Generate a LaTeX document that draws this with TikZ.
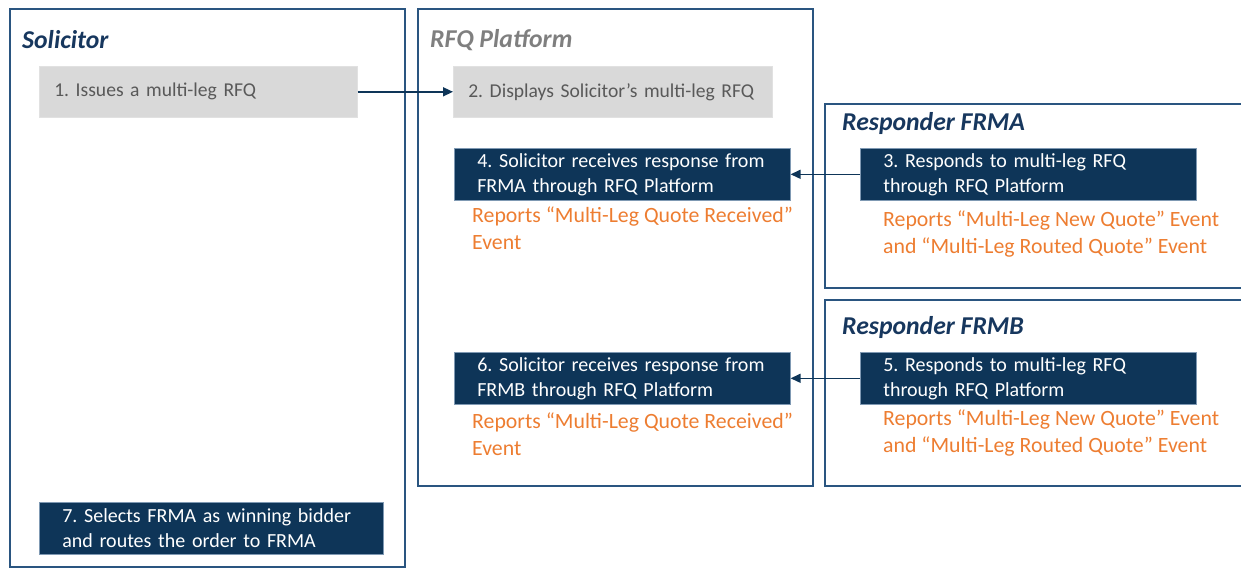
\documentclass[tikz,border=0pt]{standalone}
\usepackage{fontspec}
\setmainfont{Carlito}
\frenchspacing
\usetikzlibrary{arrows.meta}
\definecolor{navy}{HTML}{0E3558}
\definecolor{frame}{HTML}{2A5580}
\definecolor{ttl}{HTML}{17375E}
\definecolor{ttlgray}{HTML}{7F7F7F}
\definecolor{boxgray}{HTML}{D9D9D9}
\definecolor{txtgray}{HTML}{595959}
\definecolor{orng}{HTML}{ED7D31}
\tikzset{
  lane/.style={draw=frame, line width=2pt},
  lanetitle/.style={anchor=base west, inner sep=0pt, font=\fontsize{25.7}{30}\selectfont\bfseries\itshape, text=ttl},
  graybox/.style={anchor=north west, fill=boxgray, draw=boxgray!80!white, line width=0.6pt, minimum height=51pt, inner xsep=15pt, text width=#1, align=left, text=txtgray, font=\fontsize{19.6}{25}\selectfont},
  navybox/.style={anchor=north west, fill=navy, draw=frame!60!white, line width=0.6pt, minimum height=52pt, inner xsep=23pt, inner ysep=0pt, text width=#1, align=left, text=white, font=\fontsize{20}{25}\selectfont},
  evt/.style={anchor=base west, inner sep=0pt, text=orng, align=left, font=\fontsize{21.8}{27}\selectfont},
  flow/.style={draw=navy, line width=1.5pt, -{Triangle[length=10pt,width=9pt]}}
}
\begin{document}
\begin{tikzpicture}[x=1pt,y=-1pt]
\useasboundingbox (0,0) rectangle (1241,569);
\clip (0,0) rectangle (1241,569);
% lanes
\draw[lane] (10,9) rectangle (405,567);
\draw[lane] (418,9) rectangle (813,486);
\draw[lane] (825,104) rectangle (1250,288);
\draw[lane] (825,300) rectangle (1250,486);
% titles
\node[lanetitle] (tsol) at (22,49) {Solicitor};
\node[lanetitle, text=ttlgray] (trfq) at (430,48) {RFQ Platform};
\node[lanetitle] (tfrma) at (842,131) {Responder FRMA};
\node[lanetitle] (tfrmb) at (842,334) {Responder FRMB};
% steps
\node[graybox=288pt] (s1) at (39,66) {\mbox{1. Issues a multi-leg RFQ}};
\node[graybox=289pt] (s2) at (453,66) {\mbox{2. Displays Solicitor’s multi-leg RFQ}};
\node[navybox=290pt] (s3) at (860,148) {3. Responds to multi-leg RFQ\\through RFQ Platform};
\node[navybox=290pt] (s4) at (454,148) {4. Solicitor receives response from\\FRMA through RFQ Platform};
\node[navybox=290pt] (s5) at (860,352) {5. Responds to multi-leg RFQ\\through RFQ Platform};
\node[navybox=290pt] (s6) at (454,352) {6. Solicitor receives response from\\FRMB through RFQ Platform};
\node[navybox=298pt] (s7) at (39,502) {7. Selects FRMA as winning bidder\\and routes the order to FRMA};
% events (anchored at the baseline of their last line)
\node[evt] (e3) at (883,254) {Reports “Multi-Leg New Quote” Event\\and “Multi-Leg Routed Quote” Event};
\node[evt] (e4) at (472,250) {Reports “Multi-Leg Quote Received”\\Event};
\node[evt] (e5) at (883,452) {Reports “Multi-Leg New Quote” Event\\and “Multi-Leg Routed Quote” Event};
\node[evt] (e6) at (472,455) {Reports “Multi-Leg Quote Received”\\Event};
% connectors
\draw[flow] (s1.east) -- (s2.west);
\draw[flow] (s3.west) -- (s4.east);
\draw[flow] (s5.west) -- (s6.east);
\end{tikzpicture}
\end{document}
